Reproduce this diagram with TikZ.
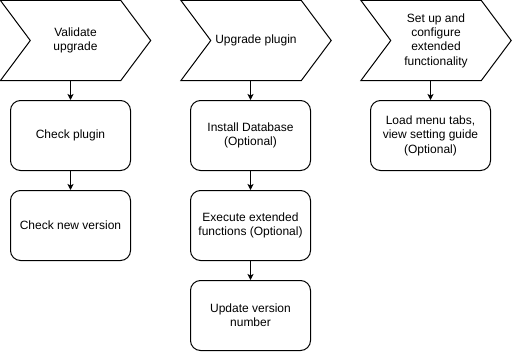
\documentclass[tikz,border=0pt]{standalone}
\usepackage{fontspec}
\setmainfont{Liberation Sans}
\usetikzlibrary{arrows.meta}
\begin{document}
\begin{tikzpicture}[x=1pt,y=1pt,
  every node/.style={font=\fontsize{12}{14.4}\selectfont, align=center, text=black},
  chev/.style={rectangle, minimum width=150pt, minimum height=80pt, inner sep=0pt},
  stepbox/.style={draw, line width=1pt, rounded corners=10pt, minimum width=120pt, minimum height=70pt, inner sep=2pt},
  arr/.style={draw, line width=1pt, -{Stealth[length=6pt,width=6pt,inset=1.5pt]}},
  chevline/.style={draw, line width=1pt, line join=miter}
]
\useasboundingbox (0,0) rectangle (512,-354);

% chevrons
\node[chev] (c1) at (75.5,-40.5) {Validate\\upgrade};
\node[chev] (c2) at (256,-40.5) {Upgrade plugin};
\node[chev] (c3) at (436,-40.5) {Set up and\\configure\\extended\\functionality};
\foreach \c in {c1,c2,c3}{
  \draw[chevline] (\c.north west) -- ([xshift=-30pt]\c.north east) -- (\c.east)
    -- ([xshift=-30pt]\c.south east) -- (\c.south west) -- ([xshift=30pt]\c.west) -- cycle;
}

% boxes
\node[stepbox] (b1) at (70.5,-135.5) {Check plugin};
\node[stepbox] (b2) at (70.5,-225.5) {Check new version};
\node[stepbox] (d1) at (250.5,-135.5) {Install Database\\(Optional)};
\node[stepbox] (d2) at (250.5,-225.5) {Execute extended\\functions (Optional)};
\node[stepbox] (d3) at (250.5,-315.5) {Update version\\number};
\node[stepbox] (e1) at (430.5,-135.5) {Load menu tabs,\\view setting guide\\(Optional)};

% connectors
\draw[arr] (b1.north |- c1.south) -- (b1.north);
\draw[arr] (b1.south) -- (b2.north);
\draw[arr] (d1.north |- c2.south) -- (d1.north);
\draw[arr] (d1.south) -- (d2.north);
\draw[arr] (d2.south) -- (d3.north);
\draw[arr] (e1.north |- c3.south) -- (e1.north);
\end{tikzpicture}
\end{document}
